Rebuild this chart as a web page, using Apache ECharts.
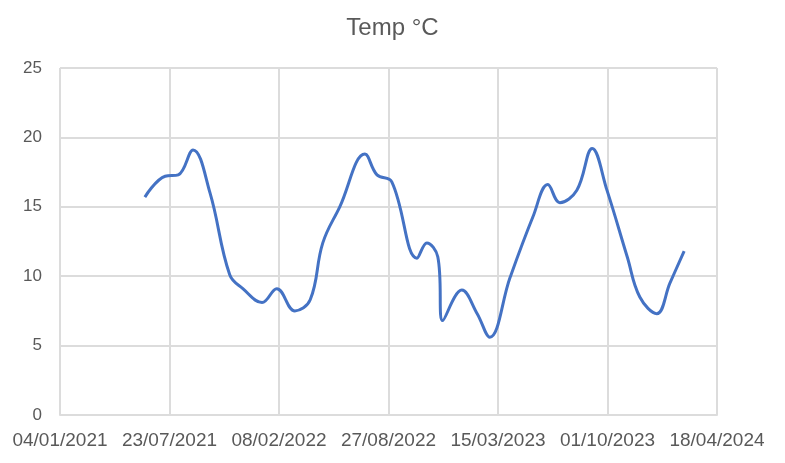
<!DOCTYPE html>
<html>
<head>
<meta charset="utf-8">
<script src="https://cdn.jsdelivr.net/npm/echarts@6/dist/echarts.min.js"></script>
<style>
  html, body { margin: 0; padding: 0; background: #fff; }
  #chart { width: 785px; height: 463px; }
</style>
</head>
<body>
<div id="chart"></div>
<script>
const startDate = '2021-01-04';

const dates = [
    '2021-06-08', '2021-07-15', '2021-08-08', '2021-09-04', '2021-10-05', '2021-11-10',
    '2021-12-04', '2022-01-08', '2022-02-04', '2022-03-09', '2022-04-06', '2022-04-29',
    '2022-05-30', '2022-07-15', '2022-08-06', '2022-09-02', '2022-10-18', '2022-11-05',
    '2022-11-25', '2022-12-04', '2023-01-08', '2023-02-05', '2023-02-28', '2023-04-06',
    '2023-05-18', '2023-06-14', '2023-07-06', '2023-08-06', '2023-09-03', '2023-09-30',
    '2023-11-06', '2023-11-29', '2023-12-30', '2024-01-23', '2024-02-18'
];

const temps = [
    15.7, 17.2, 17.3, 19.1, 16.0, 10.1,
    9.1, 8.1, 9.1, 7.5, 8.3, 12.4,
    15.0, 18.8, 17.3, 16.8, 11.3, 12.4,
    11.4, 6.8, 9.0, 7.3, 5.6, 9.9,
    14.3, 16.6, 15.3, 16.2, 19.2, 16.2,
    11.4, 8.5, 7.3, 9.5, 11.8
];

const DAY = 86400000;
const t0 = Date.parse(startDate);
const dayOffset = (d) => Math.round((Date.parse(d) - t0) / DAY);

const pad = (n) => (n < 10 ? '0' : '') + n;
const formatDay = (v) => {
    const d = new Date(t0 + v * DAY);
    return pad(d.getUTCDate()) + '/' + pad(d.getUTCMonth() + 1) + '/' + d.getUTCFullYear();
};

const seriesData = dates.map((d, i) => [dayOffset(d), temps[i]]);

const textColor = '#595959';
const gridColor = '#dcdcdc';
const font = 'Liberation Sans';

const chart = echarts.init(document.getElementById('chart'));
chart.setOption({
    animation: false,
    title: {
        text: 'Temp °C',
        left: 'center',
        top: 11,
        textStyle: { color: textColor, fontSize: 24, fontWeight: 'normal', fontFamily: font }
    },
    grid: { left: 60, right: 68, top: 68, bottom: 48 },
    xAxis: {
        type: 'value',
        min: 0,
        max: 1200,
        interval: 200,
        axisLine: { show: true, lineStyle: { color: gridColor, width: 2 } },
        axisTick: { show: false },
        axisLabel: {
            color: textColor, fontSize: 19, fontFamily: font, margin: 16,
            formatter: formatDay
        },
        splitLine: { show: true, lineStyle: { color: gridColor, width: 2 } }
    },
    yAxis: {
        type: 'value',
        min: 0,
        max: 25,
        interval: 5,
        axisLine: { show: false },
        axisTick: { show: false },
        axisLabel: { color: textColor, fontSize: 17, fontFamily: font, margin: 18 },
        splitLine: { show: true, lineStyle: { color: gridColor, width: 2 } }
    },
    series: [{
        type: 'line',
        data: seriesData,
        smooth: 0.4,
        showSymbol: false,
        lineStyle: { color: '#4472C4', width: 3 }
    }]
});
</script>
</body>
</html>
